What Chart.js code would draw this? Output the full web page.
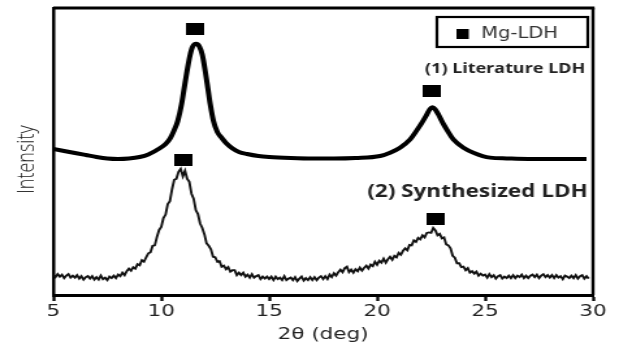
<!DOCTYPE html>
<html>
<head>
<meta charset="utf-8">
<script src="https://cdn.jsdelivr.net/npm/chart.js@4.4.1/dist/chart.umd.min.js"></script>
<style>
  html, body { margin: 0; padding: 0; background: #fff; overflow: hidden; }
  #wrap { width: 619px; height: 342px; }
  /* the source figure is stretched sideways, so the canvas is too */
  #xrd { display: block; transform: scaleX(1.3004); transform-origin: 0 0; }
</style>
</head>
<body>
<div id="wrap"><canvas id="xrd" width="476" height="342"></canvas></div>
<script>
// (1) Literature LDH - smooth pattern
const litAngle = [5.0, 5.5, 6.0, 6.5, 7.0, 7.5, 8.0, 8.5, 9.0, 9.4, 9.95, 10.2, 10.42, 10.6, 10.76, 10.94, 11.06, 11.19, 11.34, 11.45,
  11.62, 11.77, 11.9, 12.04, 12.16, 12.27, 12.42, 12.6, 12.81, 13.0, 13.27, 13.6, 13.97, 14.5, 15, 16, 17, 18, 19,
  20.14, 20.6, 21.06, 21.53, 21.81, 22.07, 22.3, 22.44, 22.56, 22.69, 22.84, 23.04, 23.27, 23.53, 24.0, 24.46, 25.23, 26, 27, 28, 29, 29.7];
const litIntensity = [147, 145, 143, 141, 139, 137.5, 137, 137.5, 139, 141.5, 148, 152, 158, 166, 175, 192, 208, 225, 242, 250,
  253, 250, 242, 225, 208, 192, 175, 164, 158, 153, 148, 144, 142, 140, 139, 138, 137.5, 137.5, 138,
  140, 143.3, 148.3, 156.7, 165, 173.3, 181.7, 187, 189, 187, 181.7, 173.3, 165, 156.7, 148.3, 143.3, 138.3, 137.5, 137, 137, 137, 137];

// (2) Synthesized LDH - raw scan, 5.0 to 29.8 deg in 0.1 deg steps
const synthStart = 5.0;
const synthStep = 0.1;
const synthCounts = [
  20.5, 18, 21, 18.5, 20.5, 17, 19.5, 21, 17.5, 19.5,
  17.5, 20, 16.5, 19, 15.5, 18, 19, 16.5, 19, 15.5,
  18, 15.5, 19.5, 16, 17.5, 15, 18.5, 17, 19.5, 17,
  20.5, 19, 22.5, 20, 24, 26.5, 24.5, 28, 26.5, 31,
  30, 35, 33.5, 38, 42, 43, 49.5, 50, 58.5, 65.5,
  68.5, 77.5, 81, 91.5, 94.5, 106.5, 116, 117, 124, 127,
  119.5, 125, 117, 114, 102, 97, 85.5, 81.5, 72, 67.5,
  61, 52, 49.5, 46, 38.5, 38, 33.5, 34, 28.5, 29.5,
  26, 28, 23.5, 25, 25, 20, 22.5, 20, 22.5, 18.5,
  20.5, 17.5, 21, 17.5, 19, 20, 16, 18.5, 16.5, 18.5,
  16, 18.5, 15, 18.5, 16, 17.5, 15, 19, 15, 16.5,
  17.5, 15, 18, 14, 16.5, 18.5, 14.5, 17, 15, 18,
  15, 18, 15, 17.5, 19, 16, 19, 16, 20.5, 18,
  22, 19.5, 23, 25.5, 23, 27, 28.5, 23, 25.5, 22.5,
  26, 24, 27.5, 24.5, 27.5, 29.5, 26.5, 30.5, 29, 33.5,
  30.5, 34.5, 32.5, 36.5, 32.5, 36, 38.5, 35.5, 39.5, 38,
  42.5, 40.5, 44.5, 47, 45, 50.5, 50, 55, 53.5, 57.5,
  56, 60, 58, 62.5, 63, 62.5, 67.5, 65, 60, 61.5,
  57, 58, 51, 50, 47, 39.5, 37.5, 32, 32, 28,
  28.5, 25, 27, 22.5, 24, 21.5, 23.5, 19.5, 21.5, 19.5,
  20.5, 17.5, 21, 18, 20, 16.5, 19, 20, 16.5, 18.5,
  17, 19.5, 17, 20, 17, 19.5, 18, 20.5, 17, 19.5,
  17, 19.5, 20.5, 18, 20.5, 17, 19.5, 21, 18, 20,
  17.5, 20, 17, 20, 17.5, 19, 16, 19.5, 18.5, 17,
  19.5, 17, 20, 16.5, 19, 20, 16.5, 19, 16.5
];

// Mg-LDH reflections marked above the peaks
const markerAngle = [11.55, 11.02, 22.55, 22.69];
const markerIntensity = [267.5, 136, 205, 77];

const xTicks = [5, 10, 15, 20, 25, 30];

const litPoints = litAngle.map((a, i) => ({ x: a, y: litIntensity[i] }));
const synthPoints = synthCounts.map((c, i) => ({ x: +(synthStart + i * synthStep).toFixed(2), y: c }));
const markerPoints = markerAngle.map((a, i) => ({ x: a, y: markerIntensity[i] }));

// black block used as point style
const block = document.createElement('canvas');
block.width = 14;
block.height = 12;
const bctx = block.getContext('2d');
bctx.fillStyle = '#000';
bctx.fillRect(0, 0, 14, 12);

const decorations = {
  id: 'decorations',
  afterDraw(chart) {
    const { ctx, chartArea: a, scales } = chart;
    const y = scales.y;
    ctx.save();
    ctx.strokeStyle = '#000';
    // top and right side of the frame
    ctx.lineWidth = 3;
    ctx.beginPath();
    ctx.moveTo(a.left, a.top);
    ctx.lineTo(a.right + 1.2, a.top);
    ctx.stroke();
    ctx.lineWidth = 2.4;
    ctx.beginPath();
    ctx.moveTo(a.right, a.top);
    ctx.lineTo(a.right, a.bottom);
    ctx.stroke();

    // legend box
    ctx.lineWidth = 2.2;
    ctx.strokeRect(a.right - 120, a.top + 9, 116, 30);
    ctx.fillStyle = '#000';
    ctx.fillRect(a.right - 105, a.top + 21, 9.5, 10);
    ctx.fillStyle = '#333';
    ctx.font = '15px "DejaVu Sans"';
    ctx.textBaseline = 'middle';
    ctx.textAlign = 'left';
    ctx.fillText('Mg-LDH', a.right - 86, a.top + 26);

    // curve labels
    ctx.fillStyle = '#222';
    ctx.textAlign = 'right';
    ctx.font = 'bold 13.8px "Open Sans"';
    ctx.fillText('(1) Literature LDH', a.right - 6, y.getPixelForValue(228));
    ctx.font = 'bold 17.3px "Open Sans"';
    ctx.fillText('(2) Synthesized LDH', a.right - 4, y.getPixelForValue(104));

    // y axis label
    ctx.translate(20.8, 159.5);
    ctx.rotate(-Math.PI / 2);
    ctx.textAlign = 'center';
    ctx.fillStyle = '#1a1a1a';
    ctx.font = '300 18px "Open Sans"';
    ctx.fillText('Intensity', 0, 0);
    ctx.restore();
  }
};

new Chart(document.getElementById('xrd'), {
  type: 'line',
  data: {
    datasets: [{
      label: '(1) Literature LDH',
      data: litPoints,
      borderColor: '#000',
      borderWidth: 4,
      pointRadius: 0,
      cubicInterpolationMode: 'monotone',
      fill: false
    }, {
      label: '(2) Synthesized LDH',
      data: synthPoints,
      borderColor: '#111',
      borderWidth: 1.9,
      pointRadius: 0,
      tension: 0,
      fill: false
    }, {
      type: 'scatter',
      label: 'Mg-LDH',
      data: markerPoints,
      pointStyle: block,
      pointRadius: 7,
      showLine: false
    }]
  },
  options: {
    responsive: false,
    animation: false,
    devicePixelRatio: 1,
    layout: { padding: { top: 6, right: 20, left: 0, bottom: 0 } },
    plugins: {
      legend: { display: false },
      tooltip: { enabled: false }
    },
    scales: {
      x: {
        type: 'linear',
        min: 5,
        max: 30,
        afterFit: (scale) => { scale.height = 47; },
        afterBuildTicks: (scale) => { scale.ticks = xTicks.map(v => ({ value: v })); },
        border: { display: true, color: '#000', width: 3 },
        grid: { display: true, drawOnChartArea: false, drawTicks: true, tickLength: 6, tickWidth: 2.3, tickColor: '#000' },
        ticks: {
          autoSkip: false,
          maxRotation: 0,
          padding: 1,
          color: '#222',
          font: { family: 'DejaVu Sans', size: 16.5 }
        },
        title: {
          display: true,
          text: '2θ (deg)',
          color: '#222',
          font: { family: 'DejaVu Sans', size: 16.5 },
          padding: { top: 0, bottom: -3 }
        }
      },
      y: {
        min: 0,
        max: 289,
        afterFit: (scale) => { scale.width = 41; },
        border: { display: true, color: '#000', width: 2.5 },
        grid: { display: false },
        ticks: { display: false }
      }
    }
  },
  plugins: [decorations]
});
</script>
</body>
</html>
